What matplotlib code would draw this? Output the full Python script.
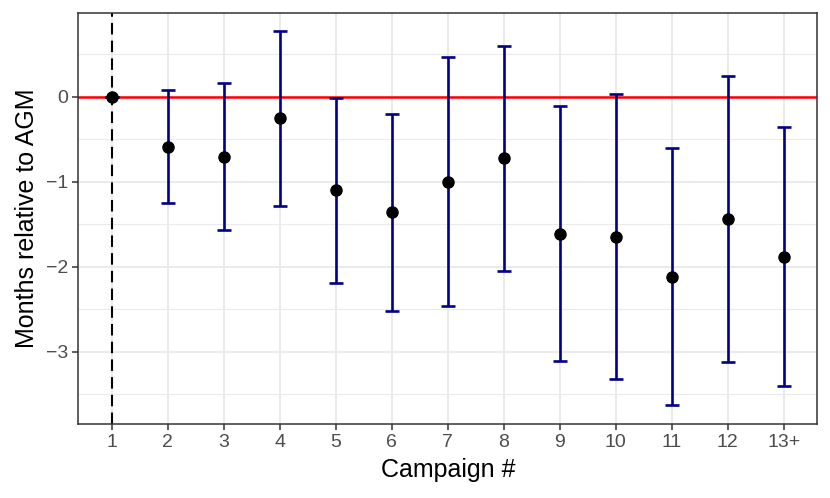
import matplotlib
matplotlib.use("Agg")
import matplotlib.pyplot as plt
import numpy as np

campaigns = ["1", "2", "3", "4", "5", "6", "7", "8", "9", "10", "11", "12", "13+"]
estimate = [0.0, -0.59, -0.71, -0.255, -1.10, -1.36, -1.00, -0.725, -1.61, -1.647, -2.118, -1.443, -1.882]
upper = [0.0, 0.075, 0.157, 0.773, -0.016, -0.20, 0.47, 0.60, -0.11, 0.027, -0.60, 0.24, -0.36]
lower = [0.0, -1.255, -1.565, -1.282, -2.188, -2.525, -2.466, -2.055, -3.114, -3.32, -3.63, -3.12, -3.403]

plt.rcParams['font.family'] = ['Liberation Sans', 'DejaVu Sans']

fig = plt.figure(figsize=(8.3, 4.98), dpi=100)
ax = fig.add_axes([78.3 / 830, 1 - 424 / 498, (817.3 - 78.3) / 830, (424 - 13.3) / 498])

x = np.arange(1, len(campaigns) + 1)
est = np.array(estimate)
up = np.array(upper)
lo = np.array(lower)

ax.set_xlim(0.4, len(campaigns) + 0.6)
ax.set_ylim(-3.85, 0.98)

# grid
ax.set_yticks([-3, -2, -1, 0])
ax.set_yticks([-3.5, -2.5, -1.5, -0.5, 0.5], minor=True)
ax.set_xticks(x)
ax.set_xticklabels(campaigns)
ax.set_yticklabels(["\u22123", "\u22122", "\u22121", "0"])
ax.grid(True, which='major', color='#EBEBEB', lw=1.4, zorder=0)
ax.grid(True, which='minor', axis='y', color='#EBEBEB', lw=0.8, zorder=0)
ax.set_axisbelow(True)

ax.axhline(0, color='#FF0000', lw=1.8, zorder=2)
ax.axvline(1, color='black', lw=1.5, dashes=(5.5, 3), zorder=1.5)

ax.errorbar(x, est, yerr=[est - lo, up - est], fmt='none', ecolor='#00008B',
            elinewidth=1.9, capsize=5.2, capthick=1.9, zorder=3)
ax.plot(x, est, 'o', color='black', markersize=8, zorder=4)

for s in ax.spines.values():
    s.set_color('#333333')
    s.set_linewidth(1.1)

ax.tick_params(axis='both', which='major', length=4, width=1.1, color='#333333',
               labelcolor='#4D4D4D', labelsize=14, pad=3)
ax.tick_params(axis='y', which='minor', length=0)

ax.set_xlabel("Campaign #", fontsize=18, color='black', labelpad=5)
ax.set_ylabel("Months relative to AGM", fontsize=18, color='black', labelpad=5)

fig.savefig("out.png", dpi=100)
